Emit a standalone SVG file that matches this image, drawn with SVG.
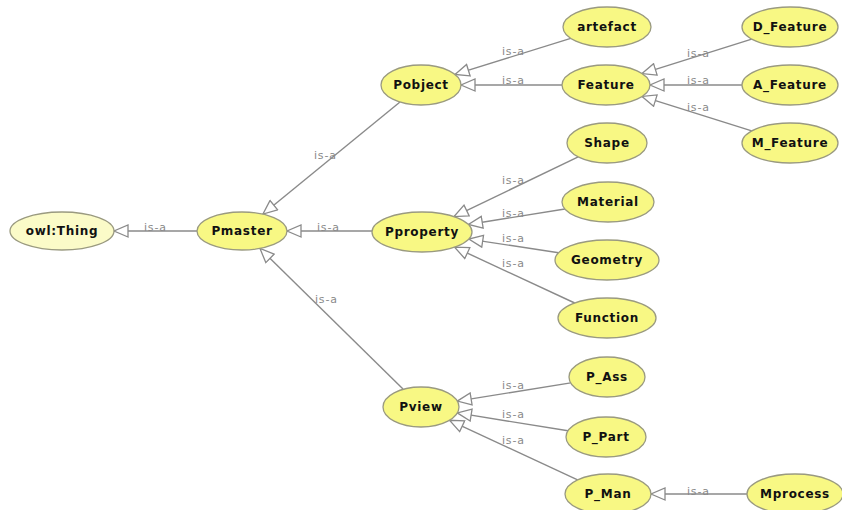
<svg xmlns="http://www.w3.org/2000/svg" width="842" height="510" viewBox="0 0 842 510">
<style>
.n ellipse{fill:#f8f884;stroke:#9a9a80;stroke-width:1.3}
.n.root ellipse{fill:#fbfbc8}
.n text{font-family:"DejaVu Sans",sans-serif;font-size:12px;font-weight:bold;fill:#111;text-anchor:middle;letter-spacing:0.7px}
.e line{stroke:#8a8a8a;stroke-width:1.4;marker-end:url(#tri)}
.e text{font-family:"DejaVu Sans",sans-serif;font-size:11px;fill:#8a8a8a;letter-spacing:0.8px}
</style>
<defs>
<marker id="tri" viewBox="0 0 16 14" refX="15" refY="7" markerWidth="16" markerHeight="14" markerUnits="userSpaceOnUse" orient="auto">
<path d="M1,1 L15,7 L1,13 Z" fill="#fff" stroke="#8a8a8a" stroke-width="1.3"/>
</marker>
</defs>
<rect width="842" height="510" fill="#fff"/>
<g id="connectors" class="e">
<line x1="197" y1="231" x2="114" y2="231"/><text x="144" y="231">is-a</text>
<line x1="400" y1="102" x2="263" y2="214"/><text x="314" y="159">is-a</text>
<line x1="372" y1="231" x2="287" y2="231"/><text x="317" y="231">is-a</text>
<line x1="403" y1="389" x2="260" y2="248.5"/><text x="315" y="303">is-a</text>
<line x1="570.7" y1="38.3" x2="455" y2="74.4"/><text x="502" y="55">is-a</text>
<line x1="562" y1="85" x2="461" y2="85"/><text x="502" y="84">is-a</text>
<line x1="751.7" y1="39.1" x2="642" y2="73.6"/><text x="687" y="57">is-a</text>
<line x1="742" y1="85" x2="650" y2="85"/><text x="687" y="84">is-a</text>
<line x1="751.7" y1="130.9" x2="642" y2="96.4"/><text x="687" y="111">is-a</text>
<line x1="578.2" y1="156.9" x2="454" y2="216.6"/><text x="502" y="184">is-a</text>
<line x1="564.9" y1="209" x2="468.4" y2="224.5"/><text x="502" y="217">is-a</text>
<line x1="558.6" y1="252.7" x2="468.8" y2="239.1"/><text x="502" y="242">is-a</text>
<line x1="574.7" y1="303" x2="454.6" y2="247.2"/><text x="502" y="267">is-a</text>
<line x1="570.7" y1="382.9" x2="457.3" y2="401.1"/><text x="502" y="389">is-a</text>
<line x1="568" y1="430.8" x2="457.3" y2="412.9"/><text x="502" y="418">is-a</text>
<line x1="577.6" y1="479.9" x2="449.5" y2="420.3"/><text x="502" y="444">is-a</text>
<line x1="747" y1="494" x2="651" y2="494"/><text x="687" y="495">is-a</text>
</g>
<g id="owlThing" class="n root"><ellipse cx="62" cy="231" rx="52" ry="19"/><text x="62" y="235">owl:Thing</text></g>
<g id="Pmaster" class="n"><ellipse cx="242" cy="231" rx="45" ry="19"/><text x="242" y="235">Pmaster</text></g>
<g id="Pobject" class="n"><ellipse cx="421" cy="85" rx="40" ry="20"/><text x="421" y="89">Pobject</text></g>
<g id="Pproperty" class="n"><ellipse cx="422" cy="232" rx="50" ry="20"/><text x="422" y="236">Pproperty</text></g>
<g id="Pview" class="n"><ellipse cx="421" cy="407" rx="38" ry="20"/><text x="421" y="411">Pview</text></g>
<g id="artefact" class="n"><ellipse cx="607" cy="27" rx="44" ry="20"/><text x="607" y="31">artefact</text></g>
<g id="Feature" class="n"><ellipse cx="606" cy="85" rx="44" ry="20"/><text x="606" y="89">Feature</text></g>
<g id="D_Feature" class="n"><ellipse cx="790" cy="27" rx="48" ry="20"/><text x="790" y="31">D_Feature</text></g>
<g id="A_Feature" class="n"><ellipse cx="790" cy="85" rx="48" ry="20"/><text x="790" y="89">A_Feature</text></g>
<g id="M_Feature" class="n"><ellipse cx="790" cy="143" rx="48" ry="20"/><text x="790" y="147">M_Feature</text></g>
<g id="Shape" class="n"><ellipse cx="607" cy="143" rx="40" ry="20"/><text x="607" y="147">Shape</text></g>
<g id="Material" class="n"><ellipse cx="608" cy="202" rx="46" ry="20"/><text x="608" y="206">Material</text></g>
<g id="Geometry" class="n"><ellipse cx="607" cy="260" rx="52" ry="20"/><text x="607" y="264">Geometry</text></g>
<g id="Function" class="n"><ellipse cx="607" cy="318" rx="49" ry="20"/><text x="607" y="322">Function</text></g>
<g id="P_Ass" class="n"><ellipse cx="607" cy="377" rx="38" ry="20"/><text x="607" y="381">P_Ass</text></g>
<g id="P_Part" class="n"><ellipse cx="606" cy="437" rx="40" ry="20"/><text x="606" y="441">P_Part</text></g>
<g id="P_Man" class="n"><ellipse cx="608" cy="494" rx="43" ry="20"/><text x="608" y="498">P_Man</text></g>
<g id="Mprocess" class="n"><ellipse cx="795" cy="494" rx="48" ry="20"/><text x="795" y="498">Mprocess</text></g>
</svg>
